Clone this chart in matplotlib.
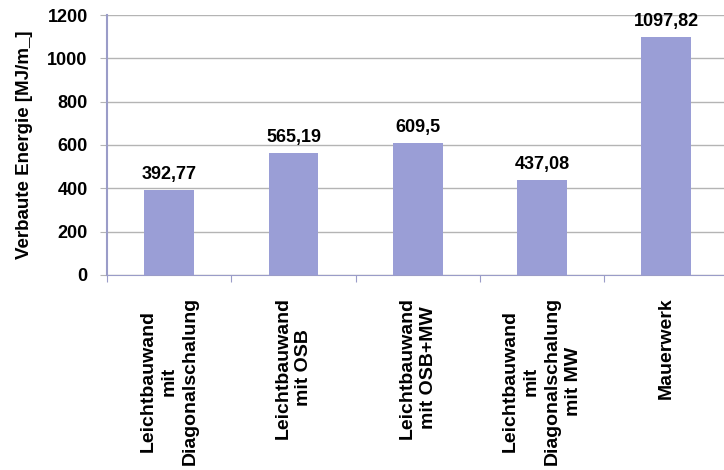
import numpy as np
import matplotlib.pyplot as plt

plt.rcParams['font.family'] = ['Liberation Sans', 'DejaVu Sans']

categories = ['Leichtbauwand\nmit\nDiagonalschalung',
              'Leichtbauwand\nmit OSB',
              'Leichtbauwand\nmit OSB+MW',
              'Leichtbauwand\nmit\nDiagonalschalung\nmit MW',
              'Mauerwerk']
values = [392.77, 565.19, 609.5, 437.08, 1097.82]
value_labels = ['392,77', '565,19', '609,5', '437,08', '1097,82']

bar_color = '#9a9ed6'
axis_color = '#9a9cc8'

fig = plt.figure(figsize=(7.24, 4.70), dpi=100)
ax = fig.add_axes([0.148, 0.415, 0.858, 0.553])

x = np.arange(len(values))
ax.bar(x, values, width=0.4, color=bar_color, zorder=3)

for xi, v, lab in zip(x, values, value_labels):
    ax.annotate(lab, (xi, v), xytext=(0, 5), textcoords='offset points',
                ha='center', va='bottom', fontsize=13, fontweight='bold')

ax.set_xlim(-0.5, len(values) - 0.5)
ax.set_ylim(0, 1200)
ax.set_yticks(np.arange(0, 1201, 200))
ax.yaxis.grid(True, color='#b4b4b4', linewidth=1, zorder=0)
ax.tick_params(axis='y', length=5, color='#b4b4b4', labelsize=13, pad=9)
for t in ax.get_yticklabels():
    t.set_fontweight('bold')

# category boundary ticks on x axis
ax.set_xticks(np.arange(-0.5, len(values), 1.0))
ax.set_xticklabels([])
ax.tick_params(axis='x', length=5, color=axis_color)
for xi, cat in zip(x, categories):
    ax.text(xi, -0.085, cat, transform=ax.get_xaxis_transform(),
            rotation=90, ha='center', va='top', multialignment='center',
            fontsize=14, fontweight='bold', linespacing=1.3)

for s in ['top', 'right']:
    ax.spines[s].set_visible(False)
ax.spines['left'].set_color(axis_color)
ax.spines['bottom'].set_color(axis_color)
ax.spines['left'].set_linewidth(1.5)

ax.set_ylabel('Verbaute Energie [MJ/m_]', fontsize=13.5, fontweight='bold', labelpad=10)

plt.savefig('out.png', dpi=100)
